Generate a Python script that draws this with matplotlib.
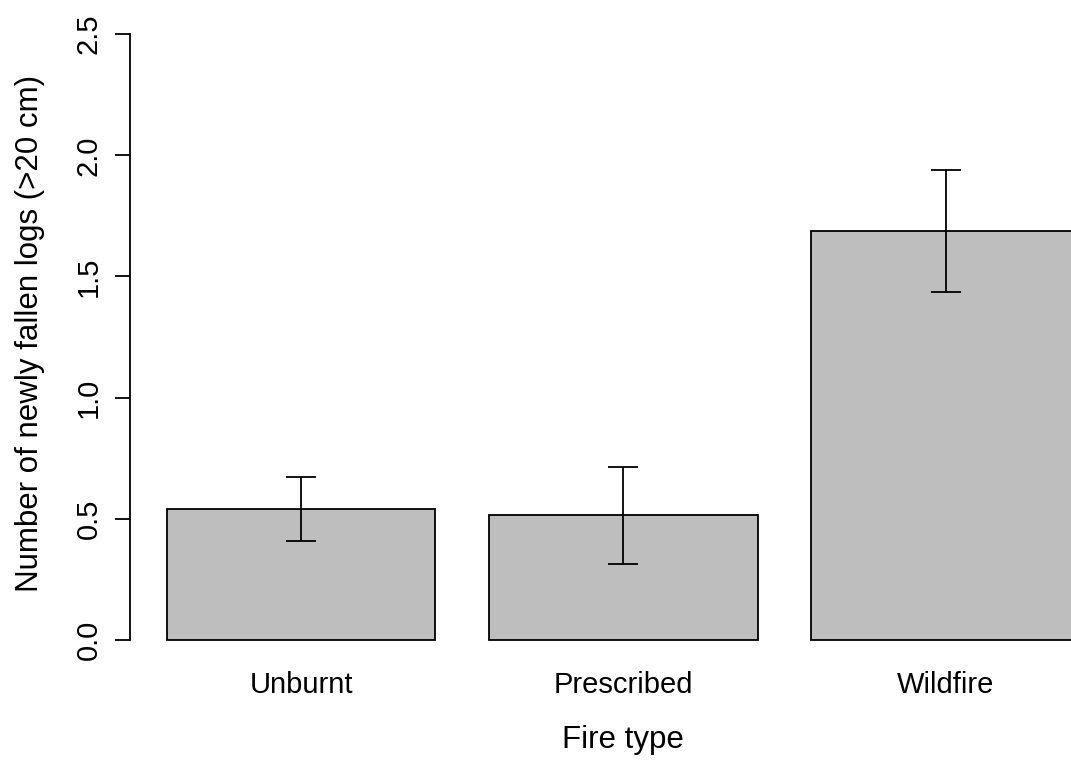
"""
Bar chart of newly fallen logs by fire type, mean with standard error.
"""

import matplotlib
matplotlib.use("Agg")
import matplotlib.pyplot as plt
import numpy as np

FIRE_TYPES = ["Unburnt", "Prescribed", "Wildfire"]
MEAN_LOGS = [0.539, 0.514, 1.686]
SE_LOGS = [0.131, 0.201, 0.252]
Y_TICKS = [0.0, 0.5, 1.0, 1.5, 2.0, 2.5]

plt.rcParams["font.family"] = ["Liberation Sans", "DejaVu Sans"]

W, H = 1071, 763

# base-R style barplot geometry: width 1, space 0.2
width = 1.0
space = 0.2
x = np.array([space + i * (width + space) + width / 2 for i in range(len(FIRE_TYPES))])
x_lo, x_hi = 0.064, 3.567

fig = plt.figure(figsize=(W / 100, H / 100), dpi=100)
ax = fig.add_axes([130.2 / W, 99 / H, (W - 130.2) / W, 654 / H])

ax.bar(x, MEAN_LOGS, width=width, color="#BEBEBE", edgecolor="black",
       linewidth=1.3)
ax.errorbar(x, MEAN_LOGS, yerr=SE_LOGS, fmt="none", ecolor="black",
            elinewidth=1.3, capsize=10.8, capthick=1.3)

ax.set_xlim(x_lo, x_hi)
ax.set_ylim(-0.1, 2.6)

for side in ["top", "right", "bottom"]:
    ax.spines[side].set_visible(False)
ax.spines["left"].set_bounds(0, 2.5)
ax.spines["left"].set_linewidth(1.3)

ax.set_yticks(Y_TICKS)
ax.set_yticklabels([f"{t:.1f}" for t in Y_TICKS], rotation=90, va="center",
                   fontsize=21)
ax.tick_params(axis="y", length=11, width=1.3, pad=9)

ax.set_xticks(x)
ax.set_xticklabels(FIRE_TYPES, fontsize=21)
ax.tick_params(axis="x", length=0, pad=5)

# axis titles placed like R's mtext lines
fig.text(30 / W, 1 - 333 / H, "Number of newly fallen logs (>20 cm)",
         rotation=90, ha="center", va="center", fontsize=22.5)
x_mid = ax.transData.transform((1.9, 0))[0] / W
fig.text(x_mid, 1 - 740 / H, "Fire type", ha="center", va="center",
         fontsize=22.5)

fig.savefig("out.png", dpi=100)
plt.close(fig)
